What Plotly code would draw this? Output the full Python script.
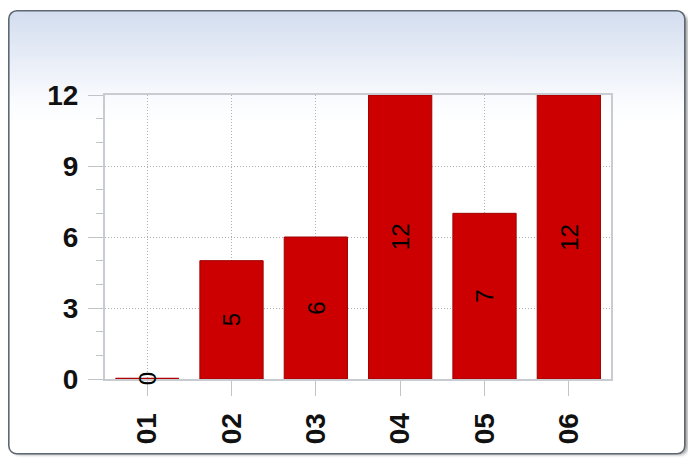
import base64
import plotly.graph_objects as go

categories = ["01", "02", "03", "04", "05", "06"]
values = [0, 5, 6, 12, 7, 12]
y_ticks = [0, 3, 6, 9, 12]

idx = list(range(len(categories)))
BAR_W = 0.75

# figure geometry (the page adds an 8px body margin)
W, H = 688, 450
L, R, T, B = 97, 85, 87, 79
PW, PH = W - L - R, H - T - B

svg = """<svg xmlns='http://www.w3.org/2000/svg' width='684' height='449' viewBox='0 0 684 449'>
<defs>
<linearGradient id='g' x1='0' y1='0' x2='0' y2='1'>
<stop offset='0' stop-color='#d3ddef'/>
<stop offset='0.21' stop-color='#fbfcfe'/>
<stop offset='0.26' stop-color='#ffffff'/>
<stop offset='1' stop-color='#ffffff'/>
</linearGradient>
<filter id='s' x='-5%' y='-5%' width='110%' height='110%'><feGaussianBlur stdDeviation='1.6'/></filter>
</defs>
<rect x='4' y='4' width='676' height='441' rx='8' fill='#a8a8a8' filter='url(#s)'/>
<rect x='0.8' y='0.8' width='676' height='443' rx='8' fill='url(#g)' stroke='#5d6873' stroke-width='1.6'/>
</svg>"""
src = "data:image/svg+xml;base64," + base64.b64encode(svg.encode()).decode()

fig = go.Figure()
fig.add_trace(go.Bar(
    x=idx, y=values, width=BAR_W,
    marker=dict(color="#cc0000", line=dict(color="#9e0000", width=1)),
    hoverinfo="skip", showlegend=False,
))
# zero-height bars drawn as a thin line
for i, v in zip(idx, values):
    if v == 0:
        fig.add_trace(go.Scatter(
            x=[i - BAR_W / 2, i + BAR_W / 2], y=[v, v], mode="lines",
            line=dict(color="#b00000", width=2.5), cliponaxis=False,
            hoverinfo="skip", showlegend=False,
        ))

annotations = [
    dict(x=i, y=v / 2, xref="x", yref="y", text=str(v), showarrow=False,
         textangle=-90, font=dict(family="Liberation Sans", size=24, color="#000000"))
    for i, v in zip(idx, values)
]
# fragment of the title, cut off at the top edge of the picture
annotations.append(dict(x=(126 - L) / PW, y=(PH + T - 3) / PH, xref="paper", yref="paper",
                        text="<b>g</b>", showarrow=False, xanchor="center", yanchor="bottom",
                        font=dict(family="Liberation Sans", size=26, color="#000000")))

grid_col = "#aeb2b6"
tick_col = "#c0c4c8"
tick_font = dict(family="Liberation Sans", size=28, color="#111111", weight="bold")

fig.update_layout(
    width=W, height=H,
    margin=dict(l=L, r=R, t=T, b=B),
    paper_bgcolor="#ffffff", plot_bgcolor="#ffffff",
    bargap=0.25,
    annotations=annotations,
    images=[dict(source=src, xref="paper", yref="paper",
                 x=(0 - L) / PW, y=(PH + T - 2) / PH,
                 sizex=684 / PW, sizey=449 / PH,
                 xanchor="left", yanchor="top", sizing="stretch", layer="below")],
    xaxis=dict(
        range=[-0.5, 5.5], tickmode="array", tickvals=idx, ticktext=categories,
        tickangle=-90, showgrid=True, gridcolor=grid_col, griddash="1px,2px", gridwidth=1,
        ticks="outside", ticklen=15, tickcolor=tick_col, tickwidth=1,
        ticklabelstandoff=6,
        showline=True, linecolor="#c8ccd0", linewidth=2, mirror=True,
        zeroline=False, tickfont=tick_font,
    ),
    yaxis=dict(
        range=[0, 12], tickmode="array", tickvals=y_ticks,
        showgrid=True, gridcolor=grid_col, griddash="1px,2px", gridwidth=1,
        ticks="outside", ticklen=15, tickcolor=tick_col, tickwidth=1,
        ticklabelstandoff=4,
        minor=dict(dtick=1, ticks="outside", ticklen=7, tickcolor=tick_col, showgrid=False),
        showline=True, linecolor="#c8ccd0", linewidth=2, mirror=True,
        zeroline=False, tickfont=tick_font,
    ),
)

fig.write_html("out.html")
